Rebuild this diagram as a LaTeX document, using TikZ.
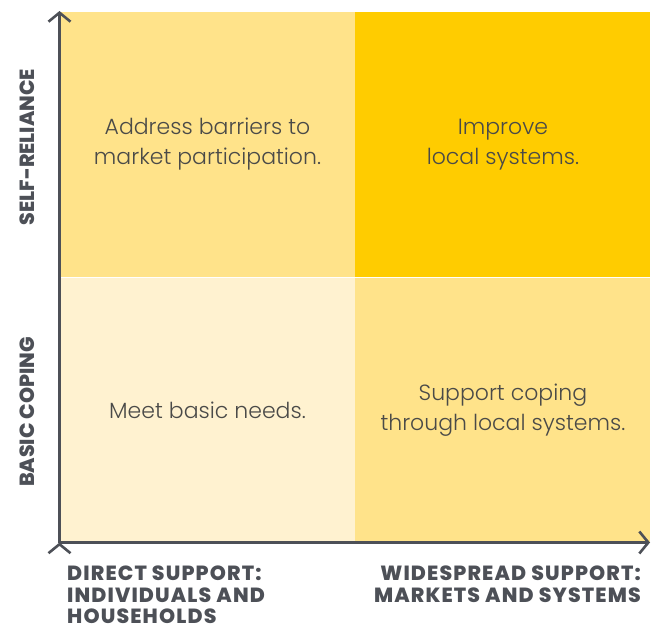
\documentclass[tikz,border=0pt]{standalone}
\usepackage{fontspec}
\setmainfont{Poppins}[UprightFont={* Light},BoldFont={* ExtraBold}]
\usetikzlibrary{arrows.meta,positioning}
\definecolor{axisgray}{HTML}{4D5057}
\definecolor{textgray}{HTML}{4A4A48}
\definecolor{ylight}{HTML}{FFF2D0}
\definecolor{ymid}{HTML}{FFE38A}
\definecolor{ydark}{HTML}{FFCC00}
\tikzset{
    quad/.style =   {rectangle,
                    draw=none,
                    text=textgray,
                    align=center,
                    inner sep=0pt,
                    minimum width=295pt,
                    minimum height=265.5pt,
                    font=\fontsize{22}{30}\selectfont},
    axis/.style =   {draw=axisgray,
                    line width=2.6pt,
                    -{Straight Barb[length=9pt,width=22pt,line width=2.6pt]}},
    axislabel/.style = {text=axisgray,
                    inner sep=0pt,
                    font=\fontsize{20.5}{21.5}\selectfont\bfseries},
    xlabel/.style = {axislabel,
                    font=\fontsize{20.5}{21.5}\selectfont\bfseries\addfontfeatures{LetterSpace=5.5}},
    -,
    node distance=0pt}

\begin{document}
\begin{tikzpicture}[x=1pt,y=-1pt]
                \useasboundingbox (0,0) rectangle (652,632);
                \node[quad,fill=ymid]   (TL) at (207.5,144.5) {Address barriers to\\market participation.};
                \node[quad,fill=ydark]  (TR) [right=of TL]     {Improve\\local systems.};
                \node[quad,fill=ylight] (BL) [below=of TL]     {Meet basic needs.};
                \node[quad,fill=ymid]   (BR) [below=of TR]     {Support coping\\through local systems.};

                \coordinate (O)    at (59.5,542.5);
                \coordinate (Ytop) at (59.5,11);
                \coordinate (Xend) at (650,542.5);

                \path [axis]    (O) edge [] (Ytop)
                                (O) edge [] (Xend);

                \node[axislabel,rotate=90] (SR) at (27,147)  {SELF-RELIANCE};
                \node[axislabel,rotate=90] (BC) at (27,412)  {BASIC COPING};
                \node[xlabel,anchor=north west,align=left]  (DS) at (67,566)  {DIRECT SUPPORT:\\INDIVIDUALS AND\\HOUSEHOLDS};
                \node[xlabel,anchor=north east,align=right] (WS) at (641,566) {WIDESPREAD SUPPORT:\\MARKETS AND SYSTEMS};
        \end{tikzpicture}
\end{document}
